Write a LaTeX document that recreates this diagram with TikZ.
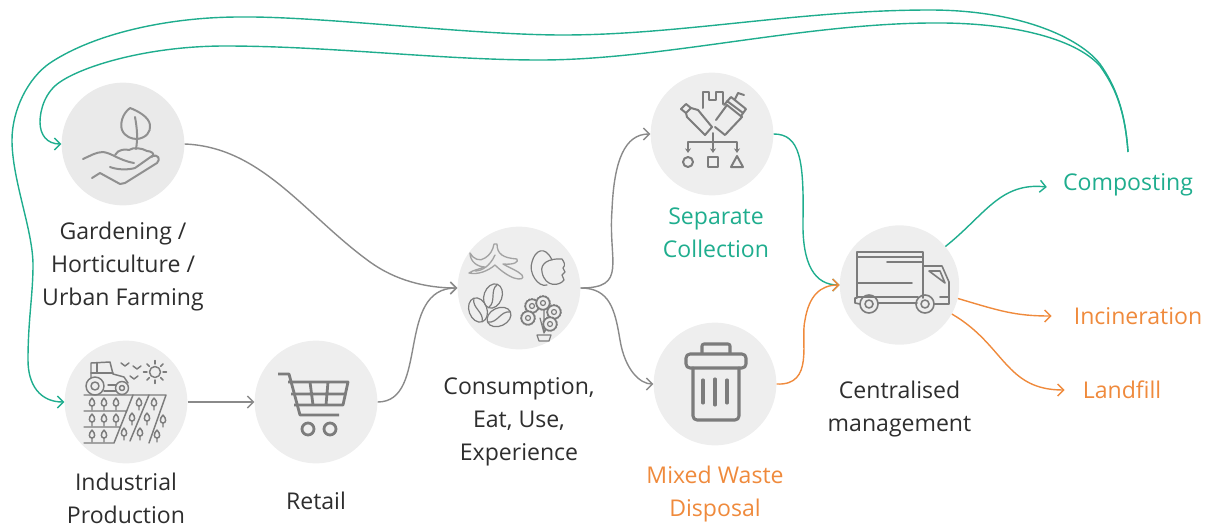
\documentclass[tikz,border=0pt]{standalone}
\usepackage{fontspec}
\setmainfont{Open Sans}
\usetikzlibrary{
    arrows.meta,
    positioning
}
\definecolor{stagefill}{HTML}{EEEEEE}
\definecolor{gardenfill}{HTML}{EAEAEA}
\definecolor{flowgreen}{HTML}{1FAD8E}
\definecolor{floworange}{HTML}{EF8A3C}
\definecolor{flowgray}{HTML}{8A8A8A}
\definecolor{icongray}{HTML}{7C7C7C}
\definecolor{labelgray}{HTML}{2E2E2E}

% small repeating icon parts
\newcommand{\fieldtree}[2]{
    \draw (#1,#2-5) .. controls (#1+4,#2-1) and (#1+3,#2+3) .. (#1,#2+3)
        .. controls (#1-3,#2+3) and (#1-4,#2-1) .. (#1,#2-5) (#1,#2+3) -- (#1,#2+7);
}
\newcommand{\coffeebean}[3]{
    \begin{scope}[shift={(#1,#2)},rotate=#3]
        \draw (0,0) ellipse [x radius=9,y radius=12.5];
        \draw (0,-12) .. controls (-5,-4) and (5,4) .. (0,12);
    \end{scope}
}
\newcommand{\flowerhead}[2]{
    \draw[fill=stagefill] (#1,#2) circle (6.5);
    \draw (#1,#2) circle (2.5);
    \draw[densely dotted,line width=1.2pt] (#1,#2) circle (7);
}

\begin{document}
\begin{tikzpicture}[
    x=0.75pt, y=-0.75pt,
    stage/.style={circle, fill=stagefill, minimum size=92pt, inner sep=0pt},
    stagelabel/.style={align=center, inner sep=0pt, font=\fontsize{17.3}{24.75}\selectfont, text=labelgray},
    arrow/.style={-{Straight Barb[length=4.5pt,width=9pt]}, line width=1.05pt},
    iconline/.style={draw=icongray, line width=1.1pt, line cap=round, line join=round},
    iconheavy/.style={draw=icongray, line width=2.1pt, line join=round}
]
    \useasboundingbox (0,0) rectangle (1213,525);

    % Stages
    \node (garden) [stage, fill=gardenfill] at (123,144) {};
    \node (industry) [stage] at (126,402) {};
    \node (retail) [stage] at (316,402) {};
    \node (consume) [stage] at (519,288) {};
    \node (separate) [stage] at (712,134) {};
    \node (mixed) [stage] at (715,384) {};
    \node (truck) [stage, minimum size=89.5pt] at (899.5,285) {};

    % Labels
    \node (gardenlabel) [stagelabel, below=12pt of garden] {Gardening /\\Horticulture /\\Urban Farming};
    \node (industrylabel) [stagelabel, below=7pt of industry] {Industrial\\Production};
    \node (retaillabel) [stagelabel, below=21pt of retail] {Retail};
    \node (consumelabel) [stagelabel, below=21pt of consume] {Consumption,\\Eat, Use,\\Experience};
    \node (separatelabel) [stagelabel, text=flowgreen, below=9pt of separate, xshift=3pt] {Separate\\Collection};
    \node (mixedlabel) [stagelabel, text=floworange, below=15pt of mixed] {Mixed Waste\\Disposal};
    \node (trucklabel) [stagelabel, below=27pt of truck] {Centralised\\management};
    \node (compost) [stagelabel, text=flowgreen, anchor=center] at (1128,185) {Composting};
    \node (burn) [stagelabel, text=floworange, anchor=center] at (1138,316) {Incineration};
    \node (landfill) [stagelabel, text=floworange, anchor=center] at (1122,390) {Landfill};

    % Gardening icon
    \begin{scope}[iconline, draw=icongray!85, line width=1.5pt]
        \draw (130,108) .. controls (122,114) and (120,124) .. (122,130)
            .. controls (125,137) and (132,139) .. (137,139)
            .. controls (146,138) and (151,132) .. (150,125)
            .. controls (149,117) and (138,111) .. (130,108);
        \draw (135,117) .. controls (137,128) and (138,138) .. (136,149);
        \draw (115,155) .. controls (118,149) and (126,149) .. (129,150)
            .. controls (133,147) and (142,148) .. (147,151) .. controls (151,151) and (156,154) .. (152,157);
        \draw (83,159) .. controls (90,156) and (96,152) .. (103,152)
            .. controls (112,153) and (118,160) .. (134,163);
        \draw (110,167) .. controls (118,170) and (128,170) .. (135,168)
            -- (152,156) .. controls (158,154) and (161,159) .. (157,163)
            -- (125,183) -- (120,184) -- (100,173) -- (92,178);
    \end{scope}

    % Industrial icon
    \begin{scope}[iconline]
        \draw (95,386) circle (9) (95,386) circle (4);
        \draw (122,388) circle (6.5) (122,388) circle (2.5);
        \draw (91,378) -- (91,363) -- (110,362) -- (113,374) -- (124,377) -- (128,383);
        \draw (91,373) -- (113,373) (97,363) -- (97,373);
        \draw (104,391) -- (116,391) (108,385) -- (116,385);
        \draw (155,372) circle (5.5);
        \foreach \ang in {0,45,...,315}
            \draw (155,372) ++(\ang:8) -- ++(\ang:3.5);
        \draw (121,363) -- (125,366) -- (129,363);
        \draw (133,366) -- (137,369) -- (141,366);
        \draw (130,376) -- (134,379) -- (138,376);
        \draw (84,395) -- (166,395) -- (149,443);
        \draw (84,411) -- (127,411) (84,427) -- (120,427) (84,443) -- (114,443) -- (133,395);
        \draw (149,395) -- (130,441);
        \foreach \tx/\ty in {92/403,104/403,116/403,92/419,104/419,116/419,92/435,104/435,
                             139/403,154/403,132/418,147/418,163/420,124/433,140/433,157/435}
        {
            \fieldtree{\tx}{\ty}
        }
    \end{scope}

    % Retail icon
    \begin{scope}[iconheavy]
        \draw (278,374) -- (289,374) -- (300,415) -- (339,415);
        \draw (288,382) -- (348,382) -- (343,405) -- (294,405);
        \draw (291,394) -- (346,394) (310,382) -- (313,405) (328,382) -- (326,405);
        \draw (308,429) circle (6) (330,429) circle (6);
    \end{scope}

    % Consumption icon
    \begin{scope}[iconline, draw=icongray!70, line width=1pt]
        \draw (494,244) -- (497,244) .. controls (497,254) and (503,258) .. (517,259)
            .. controls (519,262) and (514,265) .. (503,264)
            .. controls (510,268) and (518,271) .. (522,275) .. controls (525,279) and (520,280) .. (514,278)
            .. controls (508,276) and (500,270) .. (495,265)
            .. controls (488,271) and (478,275) .. (469,273)
            .. controls (473,270) and (480,269) .. (485,267)
            .. controls (478,267) and (470,262) .. (470,253)
            .. controls (473,259) and (480,262) .. (485,258)
            .. controls (490,255) and (493,250) .. (494,244);
        \draw (475,271) .. controls (482,271) and (490,266) .. (495,255);
    \end{scope}
    \begin{scope}[iconline, line width=0.9pt]
        \draw (552,260) .. controls (545,245) and (535,250) .. (532,262)
            .. controls (528,272) and (538,288) .. (547,285);
        \draw (542,272) .. controls (540,264) and (548,258) .. (562,259)
            .. controls (564,262) and (566,265) .. (563,268) -- (565,272) -- (562,275) -- (564,280)
            .. controls (560,286) and (545,288) .. (542,272);
        \coffeebean{493}{296}{-20}
        \coffeebean{478}{310}{20}
        \coffeebean{499}{317}{-65}
        \draw (544,333) -- (540,318) (544,333) -- (544,310) (544,333) -- (550,322);
        \flowerhead{532}{306}
        \flowerhead{543}{303}
        \flowerhead{554}{312}
        \flowerhead{528}{318}
        \flowerhead{550}{324}
        \draw[fill=stagefill] (537,335) -- (551,335) -- (549,341) -- (539,341) -- cycle;
    \end{scope}

    % Separate icon
    \begin{scope}[iconline, line width=1.5pt]
        \draw (703,108) -- (703,92) -- (709,92) -- (709,100) -- (716,100) -- (716,92) -- (723,92) -- (723,104);
        \draw (715,127) -- (725,135) -- (742,117) -- (727,105) -- (716,120);
        \draw (724,105) -- (731,97) -- (746,109) -- (741,116) (727,101) -- (743,113) (735,99) -- (738,93) -- (744,95);
        \draw (691,108) -- (686,113) -- (687,117) -- (705,135) -- (712,127) -- (698,110) -- cycle;
        \draw (686,113) -- (681,109) -- (686,104) -- (691,108);
        \draw (713,133) -- (713,142) (688,150) -- (688,142) -- (737,142) -- (737,150);
        \draw[-{Stealth[length=3.5pt,width=4.5pt]}] (713,142) -- (713,153);
        \draw[-{Stealth[length=3.5pt,width=4.5pt]}] (688,146) -- (688,153);
        \draw[-{Stealth[length=3.5pt,width=4.5pt]}] (737,146) -- (737,153);
        \draw (688,162) circle (5);
        \draw (708,157) rectangle (718,167);
        \draw (737,156) -- (743,167) -- (731,167) -- cycle;
    \end{scope}

    % Mixed icon
    \begin{scope}[iconheavy, line width=2.3pt, line cap=round]
        \draw[rounded corners=1.5pt] (702,353) -- (702,344) -- (730,344) -- (730,353);
        \draw[rounded corners=3pt] (686,354) rectangle (746,368);
        \draw[rounded corners=3pt] (693,368) -- (693,420) -- (739,420) -- (739,368);
        \draw (703,380) -- (703,403) (715,379) -- (715,405) (727,380) -- (727,403);
    \end{scope}

    % Truck icon
    \begin{scope}[iconline, line width=1.2pt]
        \draw (857,297) -- (857,252) -- (923,252) -- (923,298);
        \draw (857,257) -- (923,257) (887,262) -- (923,262) (857,283) -- (912,283);
        \draw (857,297) -- (918,297) (878,303) -- (917,303);
        \draw (857,298) -- (855,298) -- (855,303) -- (860,304);
        \draw (924,266) -- (942,266) -- (949,282) -- (949,304) -- (934,304);
        \draw (929,271) -- (940,271) -- (945,283) -- cycle;
        \draw (940,297) -- (949,297);
        \draw (869,304) circle (9) (869,304) circle (4);
        \draw (925,304) circle (9) (925,304) circle (4);
    \end{scope}

    % Flow arrows
    \begin{scope}[draw=flowgray]
        \draw [arrow] (garden.east) .. controls (262,147) and (305,215) .. (370,262)
            .. controls (395,280) and (425,288) .. (consume.west);
        \draw [arrow] (industry.east) -- (retail.west);
        \draw [arrow] (retail.east) .. controls (430,402) and (395,288) .. (consume.west);
        \draw [arrow] (consume.east) .. controls (628,288) and (608,262) .. (612,210)
            .. controls (614,160) and (625,134) .. (separate.west);
        \draw [arrow] (consume.east) .. controls (610,288) and (615,310) .. (620,340)
            .. controls (625,370) and (640,384) .. (mixed.west);
    \end{scope}

    \draw [arrow, flowgreen] (separate.east) .. controls (800,134) and (804,160) .. (803,220)
        .. controls (802,265) and (815,285) .. (truck.west);
    \draw [arrow, floworange] (mixed.east) .. controls (815,386) and (800,340) .. (805,320)
        .. controls (809,296) and (820,285) .. (truck.west);
    \draw [arrow, flowgreen] (truck.40) .. controls (985,215) and (1000,182) .. ([xshift=-12pt,yshift=-1.5pt]compost.west);
    \draw [arrow, floworange] (truck.-13) .. controls (1000,311) and (1015,316) .. ([xshift=-16.5pt]burn.west);
    \draw [arrow, floworange] (truck.-29) .. controls (1005,345) and (1005,390) .. ([xshift=-13.5pt]landfill.west);

    % Return loops
    \coordinate (loopstart) at (1128,152);
    \draw [arrow, flowgreen] (loopstart) .. controls (1125,110) and (1115,85) .. (1100,64)
        .. controls (1080,38) and (1020,10) .. (930,10)
        .. controls (800,10) and (680,35) .. (563,35)
        .. controls (470,35) and (320,16) .. (240,17)
        .. controls (170,17) and (95,33) .. (50,63)
        .. controls (28,78) and (12,110) .. (12,140)
        .. controls (12,180) and (33,230) .. (33,265)
        .. controls (33,295) and (28,320) .. (28,360)
        .. controls (28,385) and (40,402) .. (industry.west);
    \draw [arrow, flowgreen] (loopstart) .. controls (1125,110) and (1115,87) .. (1100,66)
        .. controls (1075,38) and (1010,22) .. (930,23)
        .. controls (800,24) and (660,60) .. (540,60)
        .. controls (440,60) and (330,46) .. (225,46)
        .. controls (150,46) and (85,65) .. (60,82)
        .. controls (45,92) and (40,110) .. (40,122)
        .. controls (40,135) and (47,144) .. (garden.west);
\end{tikzpicture}
\end{document}
